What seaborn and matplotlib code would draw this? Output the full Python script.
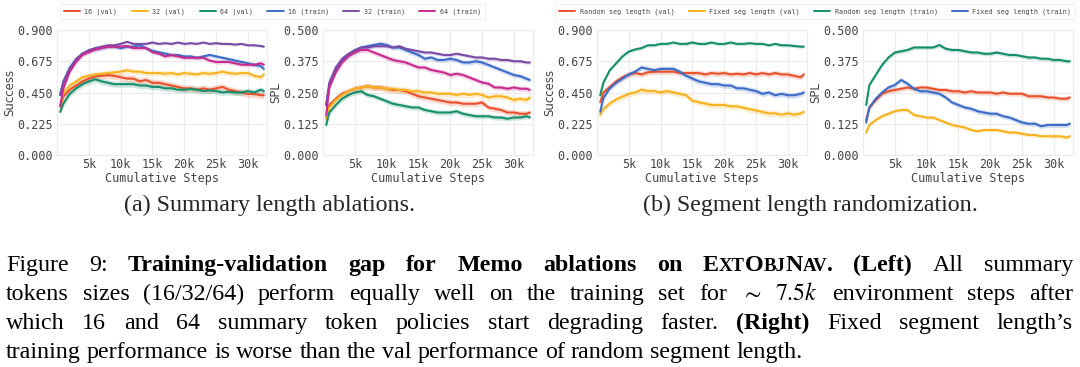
import matplotlib
matplotlib.use('Agg')
import numpy as np
import pandas as pd
import seaborn as sns
import matplotlib.pyplot as plt
from matplotlib.lines import Line2D
from matplotlib.ticker import FormatStrFormatter

STEPS = [500] + list(range(1000, 32001, 1000)) + [32500]

# ---- (a) summary length ablations ----
A_LABELS = ["16 (val)", "32 (val)", "64 (val)", "16 (train)", "32 (train)", "64 (train)"]
A_COLORS = ["#e8512b", "#f6b21f", "#178f6c", "#3c6cc6", "#7a4ca7", "#c72b8f"]

a_succ_16_val = [0.35, 0.42, 0.47, 0.50, 0.53, 0.55, 0.565, 0.57, 0.575, 0.57, 0.56, 0.55, 0.55, 0.53, 0.54, 0.52, 0.52,
                 0.51, 0.50, 0.49, 0.48, 0.48, 0.47, 0.48, 0.47, 0.48, 0.49, 0.47, 0.46, 0.45, 0.44, 0.44, 0.43, 0.43]
a_succ_32_val = [0.35, 0.45, 0.50, 0.53, 0.56, 0.57, 0.58, 0.585, 0.59, 0.595, 0.60, 0.61, 0.60, 0.60, 0.59, 0.59, 0.59,
                 0.585, 0.59, 0.58, 0.59, 0.585, 0.58, 0.59, 0.585, 0.59, 0.60, 0.59, 0.585, 0.59, 0.59, 0.57, 0.56, 0.58]
a_succ_64_val = [0.31, 0.37, 0.44, 0.48, 0.51, 0.53, 0.545, 0.53, 0.52, 0.51, 0.51, 0.51, 0.51, 0.50, 0.50, 0.49, 0.49,
                 0.48, 0.48, 0.47, 0.47, 0.475, 0.47, 0.46, 0.465, 0.46, 0.45, 0.455, 0.45, 0.45, 0.46, 0.45, 0.47, 0.46]
a_succ_16_train = [0.44, 0.53, 0.63, 0.69, 0.73, 0.75, 0.76, 0.77, 0.78, 0.78, 0.77, 0.78, 0.78, 0.79, 0.77, 0.75, 0.74,
                   0.73, 0.72, 0.72, 0.71, 0.71, 0.70, 0.71, 0.72, 0.71, 0.70, 0.69, 0.68, 0.67, 0.66, 0.65, 0.64, 0.62]
a_succ_32_train = [0.43, 0.52, 0.62, 0.69, 0.73, 0.755, 0.77, 0.78, 0.79, 0.79, 0.80, 0.815, 0.80, 0.80, 0.80, 0.81, 0.80,
                   0.805, 0.80, 0.81, 0.80, 0.805, 0.80, 0.81, 0.80, 0.805, 0.80, 0.80, 0.795, 0.80, 0.79, 0.79, 0.785, 0.78]
a_succ_64_train = [0.35, 0.48, 0.60, 0.67, 0.72, 0.74, 0.76, 0.77, 0.78, 0.78, 0.78, 0.785, 0.77, 0.77, 0.77, 0.74, 0.73,
                   0.71, 0.72, 0.71, 0.70, 0.70, 0.70, 0.70, 0.68, 0.67, 0.67, 0.67, 0.66, 0.65, 0.65, 0.65, 0.66, 0.65]
a_succ_spread = [0.025, 0.02, 0.022, 0.015, 0.01, 0.015]

a_spl_16_val = [0.15, 0.20, 0.225, 0.245, 0.255, 0.265, 0.27, 0.275, 0.27, 0.27, 0.265, 0.26, 0.26, 0.255, 0.245, 0.235, 0.23,
                0.225, 0.22, 0.215, 0.21, 0.21, 0.205, 0.205, 0.205, 0.21, 0.19, 0.185, 0.18, 0.17, 0.17, 0.165, 0.165, 0.17]
a_spl_32_val = [0.14, 0.19, 0.22, 0.24, 0.255, 0.265, 0.27, 0.275, 0.27, 0.27, 0.265, 0.265, 0.26, 0.26, 0.255, 0.255, 0.25,
                0.25, 0.245, 0.245, 0.245, 0.24, 0.245, 0.24, 0.245, 0.24, 0.23, 0.235, 0.235, 0.23, 0.22, 0.225, 0.22, 0.23]
a_spl_64_val = [0.12, 0.17, 0.20, 0.225, 0.24, 0.25, 0.255, 0.24, 0.235, 0.225, 0.215, 0.205, 0.20, 0.195, 0.19, 0.19, 0.18,
                0.175, 0.17, 0.17, 0.17, 0.175, 0.165, 0.16, 0.155, 0.155, 0.155, 0.15, 0.15, 0.145, 0.15, 0.15, 0.155, 0.15]
a_spl_16_train = [0.20, 0.28, 0.34, 0.38, 0.40, 0.415, 0.43, 0.435, 0.44, 0.445, 0.44, 0.43, 0.43, 0.42, 0.41, 0.40, 0.385,
                  0.39, 0.38, 0.38, 0.385, 0.38, 0.37, 0.37, 0.375, 0.37, 0.36, 0.35, 0.34, 0.33, 0.32, 0.315, 0.305, 0.30]
a_spl_32_train = [0.20, 0.29, 0.35, 0.385, 0.405, 0.42, 0.43, 0.43, 0.435, 0.435, 0.435, 0.43, 0.435, 0.425, 0.42, 0.415, 0.41,
                  0.41, 0.405, 0.40, 0.40, 0.405, 0.40, 0.395, 0.39, 0.39, 0.385, 0.385, 0.38, 0.38, 0.375, 0.375, 0.37, 0.37]
a_spl_64_train = [0.16, 0.27, 0.33, 0.37, 0.395, 0.41, 0.42, 0.42, 0.41, 0.40, 0.39, 0.38, 0.375, 0.37, 0.36, 0.35, 0.35,
                  0.34, 0.335, 0.33, 0.32, 0.325, 0.32, 0.31, 0.30, 0.29, 0.285, 0.27, 0.27, 0.265, 0.27, 0.265, 0.265, 0.26]
a_spl_spread = [0.012, 0.012, 0.01, 0.01, 0.007, 0.01]

# ---- (b) segment length randomization ----
B_LABELS = ["Random seg length (val)", "Fixed seg length (val)", "Random seg length (train)", "Fixed seg length (train)"]
B_COLORS = ["#e8512b", "#f6b21f", "#178f6c", "#3c6cc6"]

b_succ_rand_val = [0.38, 0.45, 0.49, 0.53, 0.56, 0.58, 0.59, 0.58, 0.595, 0.60, 0.60, 0.60, 0.60, 0.59, 0.59, 0.59, 0.59,
                   0.58, 0.59, 0.585, 0.59, 0.58, 0.585, 0.58, 0.59, 0.58, 0.59, 0.58, 0.59, 0.58, 0.58, 0.57, 0.56, 0.58]
b_succ_fixed_val = [0.29, 0.33, 0.37, 0.40, 0.42, 0.44, 0.45, 0.47, 0.46, 0.46, 0.45, 0.46, 0.45, 0.44, 0.43, 0.39, 0.38,
                    0.37, 0.36, 0.36, 0.36, 0.35, 0.35, 0.34, 0.33, 0.32, 0.31, 0.30, 0.30, 0.29, 0.30, 0.29, 0.30, 0.31]
b_succ_rand_train = [0.43, 0.52, 0.61, 0.66, 0.71, 0.745, 0.76, 0.77, 0.79, 0.79, 0.80, 0.80, 0.81, 0.80, 0.80, 0.81, 0.80,
                     0.80, 0.81, 0.80, 0.80, 0.81, 0.80, 0.80, 0.805, 0.80, 0.80, 0.79, 0.80, 0.79, 0.79, 0.785, 0.78, 0.78]
b_succ_fixed_train = [0.31, 0.41, 0.48, 0.52, 0.55, 0.58, 0.60, 0.63, 0.62, 0.61, 0.62, 0.62, 0.62, 0.60, 0.57, 0.55, 0.53,
                      0.52, 0.51, 0.51, 0.50, 0.50, 0.48, 0.48, 0.47, 0.46, 0.44, 0.45, 0.43, 0.44, 0.43, 0.43, 0.44, 0.45]
b_succ_spread = [0.02, 0.022, 0.012, 0.02]

b_spl_rand_val = [0.14, 0.19, 0.22, 0.245, 0.255, 0.26, 0.265, 0.27, 0.265, 0.27, 0.27, 0.265, 0.26, 0.26, 0.255, 0.255, 0.25,
                  0.255, 0.25, 0.25, 0.25, 0.245, 0.25, 0.245, 0.245, 0.245, 0.235, 0.235, 0.235, 0.23, 0.23, 0.225, 0.225, 0.23]
b_spl_fixed_val = [0.09, 0.12, 0.14, 0.155, 0.165, 0.175, 0.18, 0.18, 0.16, 0.155, 0.15, 0.15, 0.14, 0.13, 0.12, 0.115, 0.11,
                   0.10, 0.095, 0.10, 0.10, 0.10, 0.095, 0.09, 0.09, 0.085, 0.08, 0.08, 0.075, 0.075, 0.075, 0.075, 0.07, 0.075]
b_spl_rand_train = [0.20, 0.28, 0.32, 0.36, 0.39, 0.41, 0.415, 0.42, 0.43, 0.43, 0.43, 0.43, 0.44, 0.425, 0.42, 0.42, 0.415,
                    0.41, 0.41, 0.405, 0.405, 0.41, 0.405, 0.40, 0.40, 0.395, 0.39, 0.39, 0.385, 0.385, 0.38, 0.38, 0.375, 0.375]
b_spl_fixed_train = [0.13, 0.19, 0.225, 0.25, 0.27, 0.28, 0.30, 0.285, 0.265, 0.255, 0.255, 0.25, 0.245, 0.23, 0.21, 0.20, 0.19,
                     0.185, 0.175, 0.17, 0.165, 0.165, 0.155, 0.15, 0.14, 0.13, 0.125, 0.125, 0.115, 0.12, 0.12, 0.12, 0.12, 0.125]
b_spl_spread = [0.01, 0.008, 0.008, 0.01]

XTICKS = [5000, 10000, 15000, 20000, 25000, 30000]
XTICKLABELS = ["5k", "10k", "15k", "20k", "25k", "30k"]

W, H = 1080, 367
MONO = "DejaVu Sans Mono"
GRID = "#ebebeb"
TICKCOL = "#444444"


def long_frame(series, labels, spreads):
    # two rows per point (mean -/+ spread): seaborn's mean gives the line, pi 100 gives the band
    rows = []
    for vals, lab, h in zip(series, labels, spreads):
        for s, v in zip(STEPS, vals):
            rows.append((s, v - h, lab))
            rows.append((s, v + h, lab))
    return pd.DataFrame(rows, columns=["step", "value", "run"])


def draw_panel(ax, df, labels, colors, ylabel, ymax):
    sns.lineplot(data=df, x="step", y="value", hue="run", hue_order=labels, palette=colors,
                 estimator="mean", errorbar=("pi", 100), linewidth=1.5, ax=ax, legend=False,
                 err_kws={"alpha": 0.22, "linewidth": 0})
    ax.set_xlim(0, 33000)
    ax.set_ylim(0, ymax)
    ax.set_yticks(np.linspace(0, ymax, 5))
    ax.yaxis.set_major_formatter(FormatStrFormatter("%.3f"))
    ax.set_xticks(XTICKS)
    ax.set_xticklabels(XTICKLABELS)
    ax.grid(True, color=GRID, linewidth=0.8)
    for sp in ax.spines.values():
        sp.set_color(GRID)
        sp.set_linewidth(0.8)
    ax.tick_params(axis="both", length=0, labelsize=8.5, colors=TICKCOL)
    ax.tick_params(axis="y", pad=3)
    ax.tick_params(axis="x", pad=2)
    for lab in ax.get_xticklabels() + ax.get_yticklabels():
        lab.set_fontfamily(MONO)
    ax.set_xlabel("Cumulative Steps", family=MONO, size=8.5, color=TICKCOL, labelpad=1)
    ax.set_ylabel(ylabel, family="DejaVu Sans", size=8.5, color=TICKCOL, labelpad=1)


sns.set_theme(style="whitegrid")
plt.rcParams["font.family"] = ["DejaVu Sans"]
plt.rcParams["mathtext.fontset"] = "stix"

fig = plt.figure(figsize=(W / 100, H / 100), dpi=100)
fig.patch.set_facecolor("white")

ax_top, ax_bot = 30, 155
panels = []
for left in [57, 323, 597, 863]:
    panels.append(fig.add_axes([left / W, 1 - ax_bot / H, 210 / W, (ax_bot - ax_top) / H]))

draw_panel(panels[0], long_frame([a_succ_16_val, a_succ_32_val, a_succ_64_val, a_succ_16_train, a_succ_32_train,
                                  a_succ_64_train], A_LABELS, a_succ_spread), A_LABELS, A_COLORS, "Success", 0.9)
draw_panel(panels[1], long_frame([a_spl_16_val, a_spl_32_val, a_spl_64_val, a_spl_16_train, a_spl_32_train,
                                  a_spl_64_train], A_LABELS, a_spl_spread), A_LABELS, A_COLORS, "SPL", 0.5)
draw_panel(panels[2], long_frame([b_succ_rand_val, b_succ_fixed_val, b_succ_rand_train, b_succ_fixed_train],
                                 B_LABELS, b_succ_spread), B_LABELS, B_COLORS, "Success", 0.9)
draw_panel(panels[3], long_frame([b_spl_rand_val, b_spl_fixed_val, b_spl_rand_train, b_spl_fixed_train],
                                 B_LABELS, b_spl_spread), B_LABELS, B_COLORS, "SPL", 0.5)

leg_kw = dict(loc="upper left", prop={"family": MONO, "size": 4.9}, frameon=True, handlelength=2.4,
              handletextpad=0.6, columnspacing=2.1, borderpad=0.6, borderaxespad=0, edgecolor="#e6e6e6",
              fancybox=False, labelcolor=TICKCOL)
for labels, colors, x0, nc in [(A_LABELS, A_COLORS, 60, 6), (B_LABELS, B_COLORS, 555, 4)]:
    handles = [Line2D([], [], color=c, linewidth=1.4) for c in colors]
    leg = fig.legend(handles, labels, bbox_to_anchor=(x0 / W, 1 - 4 / H), ncol=nc, **leg_kw)
    leg.get_frame().set_linewidth(0.6)

# ---- sub captions and figure caption (set as justified lines) ----
SERIF = "Liberation Serif"
CAP = 17.3
fig.text(270 / W, 1 - 211 / H, "(a) Summary length ablations.", family=SERIF, size=CAP, ha="center", va="baseline")
fig.text(810 / W, 1 - 211 / H, "(b) Segment length randomization.", family=SERIF, size=CAP, ha="center", va="baseline")

REG = dict(family=SERIF, size=CAP, color="black")
BOLD = dict(family=SERIF, size=CAP, weight="bold", color="black")
SC = dict(family=SERIF, size=CAP * 0.78, weight="bold", color="black")
MATH = dict(size=CAP, color="black")

fig.canvas.draw()
rend = fig.canvas.get_renderer()


def width_of(s, kw):
    t = fig.text(0, 0, s, **kw)
    w = t.get_window_extent(renderer=rend).width
    t.remove()
    return w


def words(s, kw):
    return [[(w, kw)] for w in s.split()]


SPACE = width_of("a a", REG) - width_of("aa", REG)


def put_line(line, y, x0=6, x1=1073, justify=True):
    widths = [[width_of(s, kw) for s, kw in word] for word in line]
    total = sum(sum(ws) for ws in widths)
    gap = (x1 - x0 - total) / (len(line) - 1) if justify else SPACE
    x = x0
    for word, ws in zip(line, widths):
        for (s, kw), w in zip(word, ws):
            fig.text(x / W, 1 - y / H, s, ha="left", va="baseline", **kw)
            x += w
        x += gap


line1 = (words("Figure 9:", REG) + words("Training-validation gap for Memo ablations on", BOLD)
         + [[("E", BOLD), ("XT", SC), ("O", BOLD), ("BJ", SC), ("N", BOLD), ("AV", SC), (".", BOLD)]]
         + words("(Left)", BOLD) + words("All summary", REG))
line2 = (words("tokens sizes (16/32/64) perform equally well on the training set for", REG)
         + [[(r"$\sim$", MATH)], [(r"$7.5k$", MATH)]] + words("environment steps after", REG))
line3 = (words("which 16 and 64 summary token policies start degrading faster.", REG) + words("(Right)", BOLD)
         + words("Fixed segment length\u2019s", REG))
line4 = words("training performance is worse than the val performance of random segment length.", REG)

put_line(line1, 271)
put_line(line2, 300)
put_line(line3, 329)
put_line(line4, 358, justify=False)

fig.savefig("out.png", dpi=100, facecolor="white")
